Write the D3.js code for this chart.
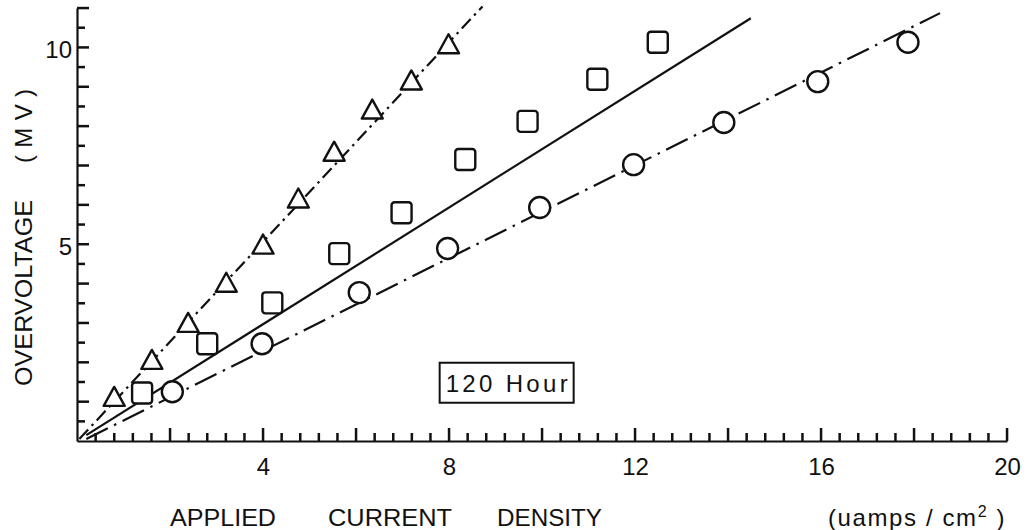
<!DOCTYPE html>
<html>
<head>
<meta charset="utf-8">
<script src="https://cdn.jsdelivr.net/npm/d3@7/dist/d3.min.js"></script>
<style>
  html, body { margin: 0; padding: 0; background: #fff; }
  svg { display: block; }
  text { font-family: "Liberation Sans", Arial, sans-serif; fill: #111; }
</style>
</head>
<body>
<svg id="chart" width="1029" height="530"></svg>
<script>
// ---- data ----
const triangleX = [0.80, 1.61, 2.39, 3.21, 4.00, 4.76, 5.53, 6.35, 7.19, 7.99];
const triangleY = [1.12, 2.06, 3.00, 4.02, 4.99, 6.16, 7.35, 8.42, 9.16, 10.08];
const squareX   = [1.40, 2.80, 4.20, 5.64, 6.98, 8.35, 9.69, 11.19, 12.49];
const squareY   = [1.22, 2.47, 3.51, 4.76, 5.80, 7.15, 8.12, 9.19, 10.13];
const circleX   = [2.05, 3.98, 6.07, 7.97, 9.95, 11.97, 13.91, 15.93, 17.87];
const circleY   = [1.25, 2.47, 3.77, 4.89, 5.93, 7.02, 8.09, 9.13, 10.13];
// fitted lines (endpoints)
const triangleLine = [[0.05, 0.05], [8.72, 11.04]];
const squareLine   = [[0.20, 0.15], [14.49, 10.74]];
const circleLine   = [[0.20, 0.05], [18.56, 10.87]];
const xTickLabels = [4, 8, 12, 16, 20];
const yTickLabels = [5, 10];
const xTitle = ["APPLIED", "CURRENT", "DENSITY"];
const yTitle = ["OVERVOLTAGE", "(MV)"];
const boxLabel = "120 Hour";
const boxPos = [9.24, 1.48];

// ---- layout ----
const svg = d3.select("#chart");
const ink = "#111";
const x = d3.scaleLinear().domain([0, 20]).range([77, 1007]);
const y = d3.scaleLinear().domain([0, 11]).range([441, 8]);

// tick positions
const xTicks = d3.range(1, 51).map(i => ({v: i * 0.4, major: i % 5 === 0}));
const yTicks = d3.range(1, 23).map(i => ({v: i * 0.5, major: i % 2 === 0}));

// x axis (labels + baseline through d3.axis)
const gx = svg.append("g").attr("transform", `translate(0,${y(0)})`);
gx.call(d3.axisBottom(x).tickValues(xTickLabels).tickSize(0).tickPadding(17).tickSizeOuter(0))
  .selectAll("text").style("font-size", "24px").attr("fill", ink);
gx.select(".domain").attr("stroke", ink).attr("stroke-width", 2.2);
svg.append("g").attr("class", "xticks").selectAll("rect").data(xTicks).join("rect")
  .attr("x", d => x(d.v) - 1.2).attr("width", 2.5)
  .attr("y", d => y(0) - (d.major ? 13 : 8)).attr("height", d => (d.major ? 13 : 8))
  .attr("fill", ink);

// y axis
const gy = svg.append("g").attr("transform", `translate(${x(0)},0)`);
gy.call(d3.axisLeft(y).tickValues(yTickLabels).tickSize(0).tickPadding(5).tickSizeOuter(0))
  .selectAll("text").style("font-size", "24px").attr("fill", ink).attr("dy", "0.42em");
gy.select(".domain").attr("stroke", ink).attr("stroke-width", 2.2);
svg.append("g").attr("class", "yticks").selectAll("rect").data(yTicks).join("rect")
  .attr("x", x(0)).attr("width", d => (d.major ? 12 : 8))
  .attr("y", d => y(d.v) - 1.2).attr("height", 2.5)
  .attr("fill", ink);

// ---- fitted lines ----
const line = d3.line().x(d => x(d[0])).y(d => y(d[1]));
svg.append("path").attr("d", line(triangleLine)).attr("fill", "none").attr("stroke", ink)
  .attr("stroke-width", 2.2).attr("stroke-dasharray", "13,5,2.5,5");
svg.append("path").attr("d", line(squareLine)).attr("fill", "none").attr("stroke", ink)
  .attr("stroke-width", 2.2);
svg.append("path").attr("d", line(circleLine)).attr("fill", "none").attr("stroke", ink)
  .attr("stroke-width", 2.2).attr("stroke-dasharray", "24,7,2.5,7");

// ---- markers ----
const tri = d3.zip(triangleX, triangleY);
const sq = d3.zip(squareX, squareY);
const ci = d3.zip(circleX, circleY);
svg.append("g").selectAll("path").data(tri).join("path")
  .attr("d", d => {
    const cx = x(d[0]), cy = y(d[1]);
    return `M${cx},${cy - 10}L${cx + 10.5},${cy + 9}L${cx - 10.5},${cy + 9}Z`;
  })
  .attr("fill", "#fff").attr("stroke", ink).attr("stroke-width", 2.4).attr("stroke-linejoin", "round");
svg.append("g").selectAll("rect").data(sq).join("rect")
  .attr("x", d => x(d[0]) - 10).attr("y", d => y(d[1]) - 10.5)
  .attr("width", 20).attr("height", 21).attr("rx", 3)
  .attr("fill", "#fff").attr("stroke", ink).attr("stroke-width", 2.4);
svg.append("g").selectAll("circle").data(ci).join("circle")
  .attr("cx", d => x(d[0])).attr("cy", d => y(d[1])).attr("r", 10.5)
  .attr("fill", "#fff").attr("stroke", ink).attr("stroke-width", 2.4);

// ---- annotation box ----
const bx = x(boxPos[0]), by = y(boxPos[1]);
svg.append("rect").attr("x", bx - 67).attr("y", by - 20).attr("width", 134).attr("height", 40)
  .attr("fill", "#fff").attr("stroke", ink).attr("stroke-width", 2);
svg.append("text").attr("x", bx - 61).attr("y", by + 9)
  .attr("textLength", 122).attr("lengthAdjust", "spacing")
  .style("font-size", "24px").text(boxLabel);

// ---- axis titles ----
const xt = svg.append("g").style("font-size", "24px");
xt.append("text").attr("x", 170).attr("y", 526).attr("textLength", 106).attr("lengthAdjust", "spacingAndGlyphs").text(xTitle[0]);
xt.append("text").attr("x", 328).attr("y", 526).attr("textLength", 124).attr("lengthAdjust", "spacingAndGlyphs").text(xTitle[1]);
xt.append("text").attr("x", 497).attr("y", 526).attr("textLength", 105).attr("lengthAdjust", "spacingAndGlyphs").text(xTitle[2]);
const unit = xt.append("text").attr("x", 828).attr("y", 526).style("letter-spacing", "1.6px");
unit.append("tspan").text("(uamps / cm");
unit.append("tspan").attr("dy", -9).style("font-size", "16px").text("2");
unit.append("tspan").attr("dy", 9).text(" )");

const yt = svg.append("g").style("font-size", "24px");
yt.append("text").attr("transform", "translate(32,386) rotate(-90)")
  .attr("textLength", 186).attr("lengthAdjust", "spacingAndGlyphs").text(yTitle[0]);
yt.append("text").attr("transform", "translate(32,163) rotate(-90)")
  .attr("textLength", 74).attr("lengthAdjust", "spacing").text(yTitle[1]);
</script>
</body>
</html>
